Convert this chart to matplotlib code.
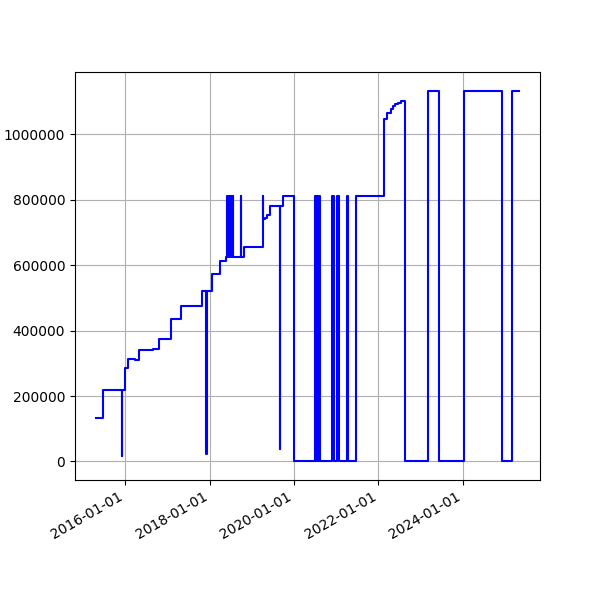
import pandas as pd
import matplotlib
matplotlib.use("Agg")
import matplotlib.pyplot as plt
import matplotlib.dates as mdates

# change points: the series takes each value from its date onwards
change_dates = [
    "2015-04-26", "2015-06-23", "2015-12-04", "2015-12-05", "2016-01-01",
    "2016-01-29", "2016-03-30", "2016-04-28", "2016-08-27", "2016-10-23",
    "2017-01-31", "2017-04-28", "2017-11-01", "2017-12-05", "2017-12-06",
    "2018-01-26", "2018-03-30", "2018-05-20",
    # dense flicker between 626000 and 811000
    "2018-05-29", "2018-05-31", "2018-06-01", "2018-06-03", "2018-06-04",
    "2018-06-06", "2018-06-07", "2018-06-09", "2018-06-10", "2018-06-12",
    "2018-06-13", "2018-06-15", "2018-06-16", "2018-06-18", "2018-06-19",
    "2018-06-21", "2018-06-22", "2018-06-24", "2018-06-25", "2018-06-27",
    "2018-06-28", "2018-06-30", "2018-07-01", "2018-07-03", "2018-07-04",
    "2018-07-06", "2018-07-07", "2018-07-09", "2018-07-10", "2018-07-12",
    "2018-07-13", "2018-07-15", "2018-07-16", "2018-07-18", "2018-07-19",
    "2018-07-21",
    "2018-09-27", "2018-09-29", "2018-10-25",
    "2019-04-08", "2019-04-10", "2019-04-25", "2019-05-10", "2019-06-10",
    "2019-09-01", "2019-09-02", "2019-09-28", "2020-01-04",
    # dense flicker between 0 and 811000
    "2020-06-29", "2020-07-01", "2020-07-02", "2020-07-04", "2020-07-05",
    "2020-07-07", "2020-07-08", "2020-07-10", "2020-07-11", "2020-07-13",
    "2020-07-14", "2020-07-16", "2020-07-17", "2020-07-19", "2020-07-20",
    "2020-07-22", "2020-07-23", "2020-07-25", "2020-07-26", "2020-07-28",
    "2020-07-29", "2020-07-31", "2020-08-01", "2020-08-03", "2020-08-04",
    "2020-08-06", "2020-08-07", "2020-08-10",
    "2020-11-28", "2020-12-10", "2021-01-12", "2021-01-26", "2021-04-02",
    "2021-04-16", "2021-06-23",
    "2022-02-22", "2022-03-19", "2022-04-20", "2022-05-05", "2022-05-25",
    "2022-06-20", "2022-07-15", "2022-08-19",
    "2023-03-09", "2023-06-11", "2024-01-09", "2024-12-02", "2025-02-26",
    "2025-04-30",
]
change_values = [
    133000, 218000, 17000, 218000, 287000,
    313000, 310000, 340000, 345000, 373000,
    436000, 474000, 522000, 24000, 522000,
    572000, 614000, 626000,
    811000, 626000, 811000, 626000, 811000,
    626000, 811000, 626000, 811000, 626000,
    811000, 626000, 811000, 626000, 811000,
    626000, 811000, 626000, 811000, 626000,
    811000, 626000, 811000, 626000, 811000,
    626000, 811000, 626000, 811000, 626000,
    811000, 626000, 811000, 626000, 811000,
    626000,
    811000, 626000, 657000,
    811000, 742000, 745000, 752000, 781000,
    39000, 781000, 811000, 0,
    811000, 0, 811000, 0, 811000,
    0, 811000, 0, 811000, 0,
    811000, 0, 811000, 0, 811000,
    0, 811000, 0, 811000, 0,
    811000, 0, 811000, 0, 811000,
    0, 811000, 0,
    811000, 0, 811000, 0, 811000,
    0, 811000,
    1047000, 1064000, 1077000, 1086000, 1092000,
    1097000, 1101000, 0,
    1134000, 0, 1134000, 0, 1134000,
    1134000,
]


def main():
    dates = pd.to_datetime(change_dates)

    fig, ax = plt.subplots(figsize=(6, 6), dpi=100)
    ax.plot(dates, change_values, color="blue", linewidth=1.5, drawstyle="steps-post")

    ax.xaxis.set_major_locator(mdates.YearLocator(2))
    ax.xaxis.set_major_formatter(mdates.DateFormatter("%Y-%m-%d"))
    ax.ticklabel_format(axis="y", style="plain")
    ax.grid(True)
    fig.autofmt_xdate()

    fig.savefig("out.png")
    plt.close(fig)


if __name__ == "__main__":
    main()
